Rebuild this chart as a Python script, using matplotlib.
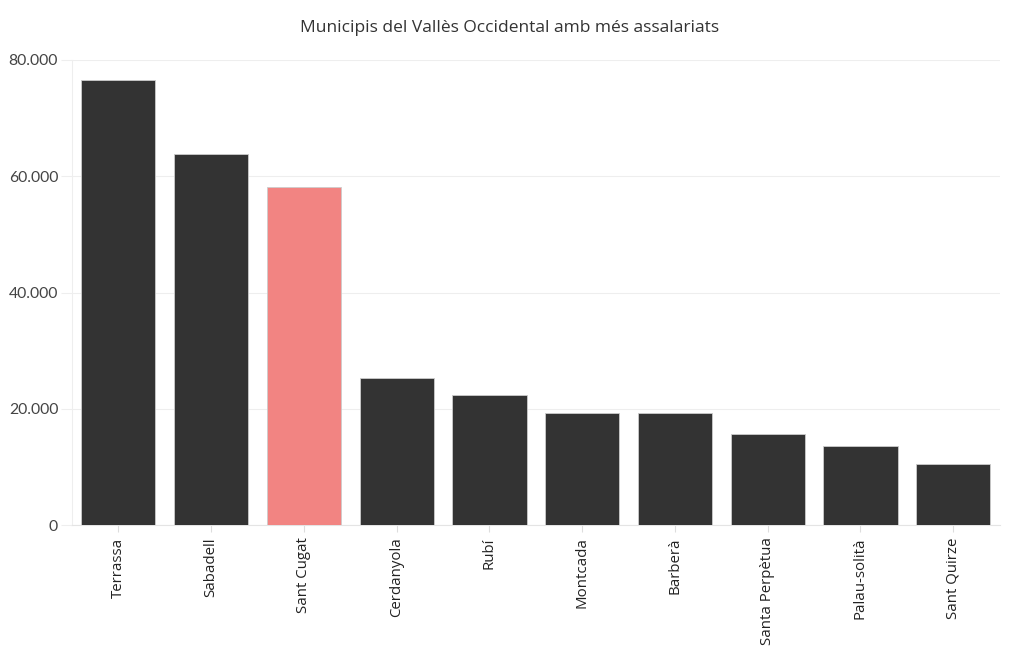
import matplotlib.pyplot as plt
from matplotlib.ticker import FuncFormatter

# dades
municipis = ['Terrassa', 'Sabadell', 'Sant Cugat', 'Cerdanyola', 'Rubí',
             'Montcada', 'Barberà', 'Santa Perpètua', 'Palau-solità', 'Sant Quirze']
assalariats = [76600, 63800, 58150, 25300, 22400, 19250, 19250, 15650, 13600, 10500]
destacat = 'Sant Cugat'

plt.rcParams['font.family'] = ['Lato', 'DejaVu Sans']

fig = plt.figure(figsize=(10.2, 6.5), dpi=100)
ax = fig.add_axes([0.0706, 0.1923, 0.9094, 0.7154])

colors = ['#f28482' if m == destacat else '#333333' for m in municipis]
ax.bar(range(len(municipis)), assalariats, width=0.8, color=colors,
       edgecolor='#cccccc', linewidth=0.6, zorder=3)

ax.set_xlim(-0.5, len(municipis) - 0.5)
ax.set_ylim(0, 80000)
ax.set_yticks([0, 20000, 40000, 60000, 80000])
ax.yaxis.set_major_formatter(FuncFormatter(lambda v, p: f'{int(v):,}'.replace(',', '.')))
ax.set_xticks(range(len(municipis)))
ax.set_xticklabels(municipis, rotation=90, fontsize=10.8, color='#222222',
                   family=['Open Sans', 'DejaVu Sans'])

ax.grid(axis='y', color='#eeeeee', linewidth=0.8, zorder=0)
for s in ['top', 'right']:
    ax.spines[s].set_visible(False)
ax.spines['left'].set_color('#eeeeee')
ax.spines['bottom'].set_color('#e4e4e4')
ax.tick_params(axis='y', length=8, color='#eeeeee', labelsize=11.3, labelcolor='#444444', pad=2)
ax.tick_params(axis='x', length=5, color='#dddddd', pad=4)

fig.suptitle('Municipis del Vallès Occidental amb més assalariats', y=0.97,
             fontsize=12.5, color='#333333', family=['Open Sans', 'DejaVu Sans'])

fig.savefig('out.png', dpi=100)
